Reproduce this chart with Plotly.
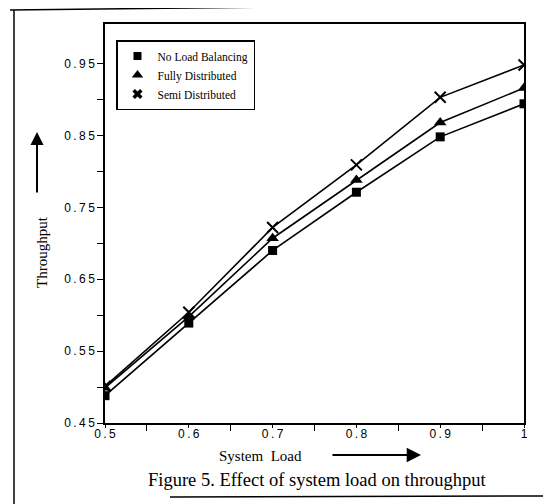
import plotly.graph_objects as go

# ---- data ----
system_load = [0.5, 0.6, 0.7, 0.8, 0.9, 1.0]
no_load_balancing = [0.488, 0.589, 0.690, 0.771, 0.848, 0.894]
fully_distributed = [0.499, 0.598, 0.707, 0.788, 0.868, 0.916]
semi_distributed = [0.501, 0.604, 0.722, 0.809, 0.903, 0.948]

x_tick_vals = [0.5, 0.6, 0.7, 0.8, 0.9, 1.0]
x_tick_text = ["0.5", "0.6", "0.7", "0.8", "0.9", "1"]
y_tick_vals = [0.45, 0.55, 0.65, 0.75, 0.85, 0.95]
y_tick_text = ["0.45", "0.55", "0.65", "0.75", "0.85", "0.95"]

series = [
    ("No Load Balancing", no_load_balancing, "square", 9, "square", 8),
    ("Fully Distributed", fully_distributed, "triangle-up", 11, "triangle-up", 10),
    ("Semi Distributed", semi_distributed, "x-thin", 11, "x", 9),
]

# ---- geometry (reference pixel coords; page has an 8px body margin) ----
OFF = 8
W, H = 551 - OFF, 504 - OFF
L, R, T, B = 105, 524, 24, 423
def px(x):
    return (x - L) / (R - L)
def py(y):
    return (B - y) / (B - T)

def spaced(s):
    return "\u2009".join(s)

fig = go.Figure()
for name, vals, sym, size, lsym, lsize in series:
    is_thin = sym.endswith("-thin")
    fig.add_trace(go.Scatter(
        x=system_load, y=vals, mode="lines+markers", name=name,
        showlegend=False,
        line=dict(color="black", width=1.6),
        marker=dict(symbol=sym, size=size, color="black",
                    line=dict(color="black", width=2 if is_thin else 0)),
    ))
for name, vals, sym, size, lsym, lsize in series:
    fig.add_trace(go.Scatter(
        x=[None], y=[None], mode="markers", name=name,
        marker=dict(symbol=lsym, size=lsize, color="black", line=dict(width=0)),
    ))

serif = "Liberation Serif"
sans = "Liberation Sans"

fig.update_layout(
    width=W, height=H,
    margin=dict(l=L - OFF, r=W - (R - OFF), t=T - OFF, b=H - (B - OFF), pad=0),
    paper_bgcolor="white", plot_bgcolor="white",
    showlegend=True,
    legend=dict(
        x=px(116), y=py(40), xanchor="left", yanchor="top",
        bgcolor="white", bordercolor="black", borderwidth=1.5,
        font=dict(family=serif, size=11.5, color="black"),
        tracegroupgap=0, itemwidth=30,
    ),
    xaxis=dict(
        range=[0.5, 1.0], showgrid=False, zeroline=False,
        showline=True, linecolor="black", linewidth=1.5, mirror=True,
        tickmode="array", tickvals=x_tick_vals,
        ticktext=[spaced(t) for t in x_tick_text],
        ticks="outside", ticklen=3, tickwidth=1, tickcolor="black",
        ticklabelstandoff=-4,
        minor=dict(tickmode="array", tickvals=[0.55, 0.65, 0.75, 0.85, 0.95],
                   ticks="outside", ticklen=6, tickwidth=1, tickcolor="black"),
        tickfont=dict(family=sans, size=12, color="black"),
    ),
    yaxis=dict(
        range=[0.45, 1.005], showgrid=False, zeroline=False,
        showline=True, linecolor="black", linewidth=1.5, mirror=True,
        tickmode="array", tickvals=y_tick_vals,
        ticktext=[spaced(t) for t in y_tick_text],
        ticks="outside", ticklen=6, tickwidth=1, tickcolor="black",
        minor=dict(tickmode="array", tickvals=[0.5, 0.6, 0.7, 0.8, 0.9],
                   ticks="outside", ticklen=6, tickwidth=1, tickcolor="black"),
        tickfont=dict(family=sans, size=12, color="black"),
    ),
)

ann = []
ann.append(dict(xref="paper", yref="paper", x=px(42), y=py(252), text="Throughput",
                textangle=-90, showarrow=False, xanchor="center", yanchor="middle",
                font=dict(family=serif, size=15, color="black")))
ann.append(dict(xref="paper", yref="paper", x=px(37), y=py(132), text="",
                showarrow=True, ax=0, ay=62, axref="pixel", ayref="pixel",
                arrowhead=2, arrowsize=1.3, arrowwidth=2, arrowcolor="black"))
ann.append(dict(xref="paper", yref="paper", x=px(260), y=py(456), text="System  Load",
                showarrow=False, xanchor="center", yanchor="middle",
                font=dict(family=serif, size=15, color="black")))
ann.append(dict(xref="paper", yref="paper", x=px(421), y=py(455), text="",
                showarrow=True, ax=-90, ay=0, axref="pixel", ayref="pixel",
                arrowhead=2, arrowsize=1.3, arrowwidth=2.2, arrowcolor="black"))
ann.append(dict(xref="paper", yref="paper", x=px(317), y=py(480),
                text="Figure 5. Effect of system load on throughput",
                showarrow=False, xanchor="center", yanchor="middle",
                font=dict(family=serif, size=18.5, color="black")))
fig.update_layout(annotations=ann)

shapes = [
    dict(type="line", xref="paper", yref="paper", x0=px(14), y0=py(10), x1=px(14), y1=py(504),
         line=dict(color="black", width=1.5)),
    dict(type="line", xref="paper", yref="paper", x0=px(10), y0=py(10), x1=px(551), y1=py(4),
         line=dict(color="black", width=1.5)),
    dict(type="line", xref="paper", yref="paper", x0=px(170), y0=py(497), x1=px(551), y1=py(496),
         line=dict(color="black", width=1.5)),
]
fig.update_layout(shapes=shapes)

fig.write_html("out.html")
